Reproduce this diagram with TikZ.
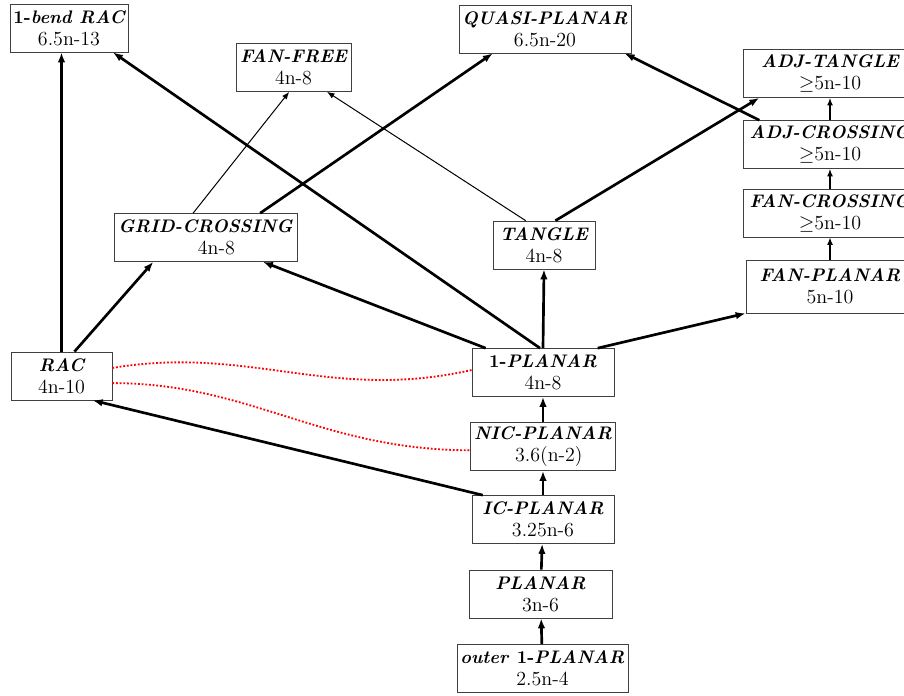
\documentclass[tikz,border=0pt]{standalone}
\usepackage{amsmath}
\usepackage{amssymb}
\usepackage{tikz}
\usetikzlibrary{arrows.meta}

\newcommand{\cname}[1]{{\fontsize{10.9}{13}\selectfont\bfseries\itshape #1}}

\begin{document}
\begin{tikzpicture}[x=0.6pt,y=-0.6pt,
    graphclass/.style={draw=black!75, thin, align=center, inner sep=2pt,
        minimum height=28.8pt, minimum width=#1*0.6pt,
        font=\fontsize{12}{13.2}\selectfont},
    thickedge/.style={-{Latex[length=6pt,width=4.5pt]}, line width=1.6pt},
    medge/.style={-{Latex[length=4.5pt,width=3.5pt]}, line width=0.8pt},
    thinedge/.style={-{Latex[length=4.5pt,width=3.5pt]}, line width=0.6pt},
    conflict/.style={red, dash pattern=on 1.1pt off 1.1pt, line width=1.1pt}]
                        \clip (0,0) rectangle (904,696);
                        % Nodes
                        \node[graphclass=116] (bendrac) at (69,28) {\cname{\textup{1-}bend RAC}\\6.5n-13};
                        \node[graphclass=115] (fanfree) at (293.5,67.5) {\cname{FAN-FREE}\\4n-8};
                        \node[graphclass=172] (quasi) at (545,29) {\cname{QUASI-PLANAR}\\6.5n-20};
                        \node[graphclass=174] (adjtangle) at (830,73.5) {\cname{ADJ-TANGLE}\\$\geq$5n-10};
                        \node[graphclass=174] (adjcross) at (830,144.5) {\cname{ADJ-CROSSING}\\$\geq$5n-10};
                        \node[graphclass=174] (fancross) at (830,213) {\cname{FAN-CROSSING}\\$\geq$5n-10};
                        \node[graphclass=168, minimum height=31.8pt] (fanplanar) at (830,286.5) {\cname{FAN-PLANAR}\\5n-10};
                        \node[graphclass=183] (gridcross) at (205.5,237.5) {\cname{GRID-CROSSING}\\\hspace*{13pt}4n-8};
                        \node[graphclass=102] (tangle) at (544,245) {\cname{TANGLE}\\4n-8};
                        \node[graphclass=101] (rac) at (61.5,376) {\cname{RAC}\\4n-10};
                        \node[graphclass=142] (onep) at (543,372.5) {\cname{\textup{1-}PLANAR}\\4n-8};
                        \node[graphclass=142] (nicp) at (543,446.5) {\cname{NIC-PLANAR}\\\hspace*{7pt}3.6(n-2)};
                        \node[graphclass=142] (icp) at (543,519.5) {\cname{IC-PLANAR}\\3.25n-6};
                        \node[graphclass=143] (planar) at (540.5,594) {\cname{PLANAR}\\3n-6};
                        \node[graphclass=167] (outer) at (542.5,668.5) {\cname{outer \textup{1-}PLANAR}\\2.5n-4};

                        % Edges
                        \draw[thickedge] (rac.north) -- (rac.north |- bendrac.south);
                        \draw[thickedge] (rac.62) -- (gridcross.205);
                        \draw[thickedge] (onep.97) -- (bendrac.-29);
                        \draw[thickedge] (onep.157) -- (gridcross.-23);
                        \draw[thickedge] (onep.north) -- (tangle.south);
                        \draw[thickedge] (onep.24) -- (fanplanar.south west);

                        \draw[thinedge] (gridcross.117) -- (fanfree.-100);
                        \draw[thickedge] (gridcross.24) -- (quasi.205);
                        \draw[thinedge] (tangle.127) -- (fanfree.-36);
                        \draw[thickedge] (tangle.65) -- (adjtangle.199);
                        \draw[thickedge] (adjcross.161) -- (quasi.-17);

                        \draw[medge] (adjcross) -- (adjtangle);
                        \draw[medge] (fancross) -- (adjcross);
                        \draw[medge] (fanplanar) -- (fancross);

                        \draw[thickedge] (nicp) -- (onep);
                        \draw[thickedge] (icp) -- (nicp);
                        \draw[thickedge] (planar) -- (icp);
                        \draw[thickedge] (outer) -- (planar);
                        \draw[thickedge] (icp.158) -- (rac.-38);

                        \draw[conflict] (rac.9) .. controls (250,345) and (330,402) .. (onep.178);
                        \draw[conflict] (rac.-8) .. controls (250,383) and (320,450) .. (nicp.183);
                    \end{tikzpicture}
\end{document}
